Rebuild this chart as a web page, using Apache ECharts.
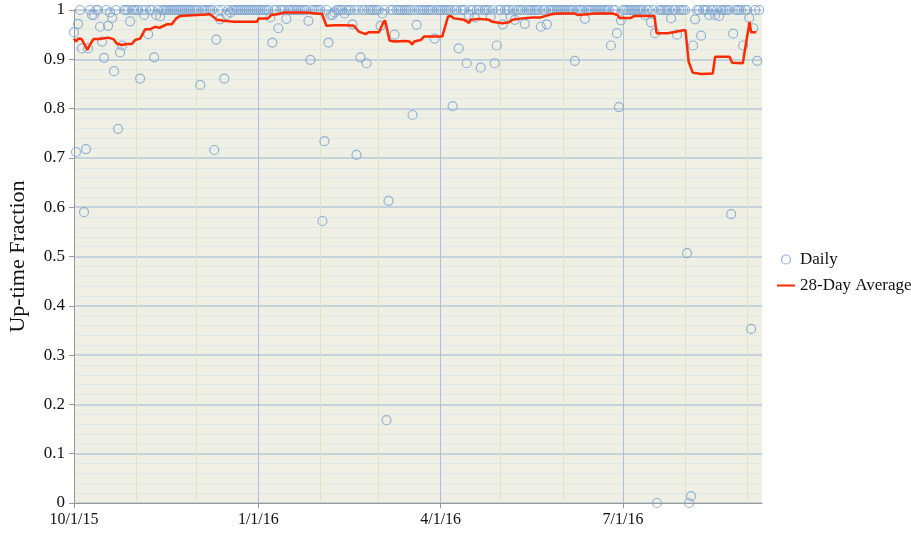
<!DOCTYPE html>
<html>
<head>
<meta charset="utf-8">
<script src="https://cdn.jsdelivr.net/npm/echarts@6/dist/echarts.min.js"></script>
<style>
  html, body { margin: 0; padding: 0; background: #fff; }
  #chart { width: 911px; height: 535px; }
</style>
</head>
<body>
<div id="chart"></div>
<script>
// ---- Data ----
// x values are days after 10/1/15
const lastDay = 343.4;

// one value per day, starting 10/1/15
const dailyUptime = [
  // Oct
  0.955, 0.712, 0.972, 1, 0.922, 0.590, 0.718, 0.922, 1, 0.99,
  0.99, 1, 1, 0.966, 0.936, 0.903, 1, 0.968, 0.995, 0.984,
  0.876, 1, 0.759, 0.914, 0.928, 1, 1, 1, 0.977, 1, 1,
  // Nov
  1, 1, 0.861, 1, 0.99, 1, 0.951, 1, 1, 0.904,
  0.99, 1, 0.987, 1, 1, 1, 1, 1, 1, 1,
  1, 1, 1, 1, 1, 1, 1, 1, 1, 1,
  // Dec
  1, 1, 0.848, 1, 1, 1, 1, 1, 1, 0.716,
  0.94, 1, 0.981, 1, 0.861, 0.99, 1, 0.995, 1, 1,
  1, 1, 1, 1, 1, 1, 1, 1, 1, 1, 1,
  // Jan
  1, 1, 1, 1, 1, 1, 0.985, 0.934, 1, 1,
  0.963, 1, 1, 1, 0.982, 1, 1, 1, 1, 1,
  1, 1, 1, 1, 1, 0.978, 0.899, 1, 1, 1, 1,
  // Feb
  1, 0.572, 0.734, 1, 0.934, 0.99, 0.99, 0.995, 1, 1,
  1, 1, 0.993, 1, 1, 1, 0.971, 1, 0.706, 1,
  0.904, 1, 1, 0.892, 1, 1, 1, 1, 1,
  // Mar
  1, 0.968, 0.993, 1, 0.168, 0.613, 1, 1, 0.95, 1,
  1, 1, 1, 1, 1, 1, 1, 0.787, 1, 0.97,
  1, 1, 1, 1, 1, 1, 1, 1, 0.942, 1, 1,
  // Apr
  1, 1, 1, 1, 1, 1, 0.805, 1, 1, 0.922,
  1, 1, 1, 0.892, 0.99, 1, 1, 0.985, 1, 1,
  0.883, 1, 1, 1, 1, 0.987, 1, 0.892, 0.928, 1,
  // May
  1, 0.971, 1, 1, 1, 0.987, 1, 0.98, 1, 1,
  1, 1, 0.972, 1, 1, 1, 1, 1, 1, 1,
  0.966, 1, 1, 0.971, 1, 1, 1, 1, 1, 1, 1,
  // Jun
  1, 1, 1, 1, 1, 1, 0.897, 1, 1, 1,
  1, 0.982, 1, 1, 1, 1, 1, 1, 1, 1,
  1, 1, 1, 1, 0.928, 1, 1, 0.953, 0.803, 0.979,
  // Jul
  1, 1, 1, 1, 1, 1, 1, 1, 1, 1,
  1, 0.99, 1, 1, 0.975, 1, 0.953, 0, 1, 1,
  1, 1, 1, 1, 0.983, 1, 1, 0.95, 1, 1, 1,
  // Aug
  1, 0.507, 0, 0.014, 0.928, 0.981, 1, 1, 0.948, 1,
  1, 1, 0.99, 1, 1, 0.99, 1, 0.988, 1, 1,
  1, 1, 1, 0.586, 0.952, 1, 1, 1, 1, 0.928, 1,
  // Sep
  1, 0.984, 0.353, 0.963, 1, 0.897, 1
];

// 28-day average, read at its turning points
const avgDays = [
  0, 1, 2.2, 3.8, 5, 6.7, 8.3, 9.7, 13, 17, 19.7, 21.3, 23.8, 26.3, 28.8, 30.5,
  33, 33.8, 35.5, 38, 40.5, 42.7, 46.3, 48.8, 51, 53, 61.3, 66.3, 67.7, 69.3,
  71.3, 74.7, 79.7, 85.5, 91.3, 92.2, 96.8, 98.5, 102.2, 104.7, 115.5, 123.8,
  126, 130.5, 135.5, 139.7, 142.2, 145.5, 147.2, 152.2, 154.2, 155.2, 156, 157.5,
  159.7, 165.5, 167.5, 168.8, 169.7, 173, 174.7, 183.8, 186.7, 188, 189.7, 194.7,
  197.2, 198, 202.2, 207.2, 208.8, 213.8, 217.2, 218.8, 223.8, 228.8, 233, 235.5,
  238.8, 242.2, 249.7, 251.3, 254.7, 260.5, 268.8, 271.3, 272.2, 278, 279.7,
  285.5, 289.7, 290.8, 296.3, 300.5, 304.2, 305.2, 306.8, 308.8, 313, 318.8,
  320, 327.2, 328.5, 333.8, 334.7, 337.2, 338, 340.5
];
const avgValues = [
  0.942, 0.936, 0.942, 0.941, 0.932, 0.919, 0.932, 0.941, 0.941, 0.944, 0.941, 0.932, 0.929, 0.931, 0.931, 0.939,
  0.942, 0.941, 0.961, 0.961, 0.966, 0.964, 0.971, 0.971, 0.983, 0.988, 0.99, 0.991, 0.992, 0.987,
  0.98, 0.978, 0.976, 0.976, 0.976, 0.983, 0.983, 0.99, 0.992, 0.995, 0.995, 0.992,
  0.968, 0.969, 0.969, 0.968, 0.956, 0.951, 0.955, 0.955, 0.973, 0.979, 0.966, 0.938,
  0.936, 0.937, 0.936, 0.930, 0.936, 0.939, 0.946, 0.946, 0.987, 0.988, 0.983, 0.98,
  0.974, 0.98, 0.982, 0.98, 0.976, 0.973, 0.975, 0.98, 0.983, 0.985, 0.985, 0.988,
  0.992, 0.993, 0.993, 0.99, 0.991, 0.993, 0.993, 0.99, 0.984, 0.984, 0.988,
  0.988, 0.988, 0.953, 0.953, 0.956, 0.959, 0.959, 0.895, 0.873, 0.87, 0.871,
  0.905, 0.905, 0.893, 0.892, 0.893, 0.976, 0.955, 0.955
];

// quarter ticks (labelled) and month lines, in days after 10/1/15
const tickDays = [0, 92, 183, 274];
const tickLabels = ['10/1/15', '1/1/16', '4/1/16', '7/1/16'];
const monthDays = [31, 61, 123, 152, 213, 244, 305, 336];

const serif = '"Liberation Serif", "DejaVu Serif", serif';

const chart = echarts.init(document.getElementById('chart'));
const option = {
  animation: false,
  textStyle: { fontFamily: serif },
  grid: {
    left: 74, right: 149, top: 10, bottom: 32,
    outerBoundsMode: 'none',
    containLabel: false,
    show: true, backgroundColor: '#eff0e3', borderWidth: 0
  },
  legend: {
    orient: 'vertical',
    left: 771,
    top: 246,
    itemWidth: 18,
    itemHeight: 9,
    itemGap: 9,
    textStyle: { fontFamily: serif, fontSize: 17, color: '#111' },
    data: [
      { name: 'Daily', icon: 'circle', itemStyle: { color: 'transparent', borderColor: '#7ba3cf', borderWidth: 1.2 } },
      { name: '28-Day Average', itemStyle: { opacity: 0 } }
    ]
  },
  xAxis: [
    {
      type: 'value',
      min: 0,
      max: lastDay,
      axisLine: { show: true, onZero: false, lineStyle: { color: '#999', width: 1 } },
      axisTick: { show: true, length: 5, customValues: tickDays, lineStyle: { color: '#999' } },
      axisLabel: {
        customValues: tickDays,
        fontFamily: serif, fontSize: 16, color: '#111', margin: 9,
        formatter: v => tickLabels[tickDays.indexOf(v)] || ''
      },
      splitLine: { show: true, lineStyle: { color: '#a9c1dd', width: 1 } }
    },
    {
      type: 'value',
      position: 'bottom',
      min: 0,
      max: lastDay,
      axisLine: { show: false },
      axisTick: { show: false, customValues: monthDays },
      axisLabel: { show: false, customValues: monthDays },
      splitLine: { show: true, lineStyle: { color: '#dbe4c6', width: 1 } }
    }
  ],
  yAxis: {
    type: 'value',
    min: 0,
    max: 1,
    interval: 0.1,
    name: 'Up-time Fraction',
    nameLocation: 'middle',
    nameGap: 45,
    nameTextStyle: { fontFamily: serif, fontSize: 22, color: '#111' },
    axisLine: { show: true, lineStyle: { color: '#999' } },
    axisTick: { show: true, length: 5, lineStyle: { color: '#999' } },
    axisLabel: { fontFamily: serif, fontSize: 17, color: '#111', margin: 9 },
    splitLine: { show: true, lineStyle: { color: '#b6c9dc', width: 1.6 } },
    minorTick: { show: false, splitNumber: 5 },
    minorSplitLine: { show: true, lineStyle: { color: '#dde8ec', width: 1 } }
  },
  series: [
    {
      name: 'Daily',
      type: 'scatter',
      xAxisIndex: 0,
      symbol: 'circle',
      symbolSize: 9,
      clip: false,
      itemStyle: { color: 'transparent', borderColor: '#7ba3cf', borderWidth: 1.2 },
      data: dailyUptime.map((v, i) => [i, v]),
      z: 3
    },
    {
      name: '28-Day Average',
      type: 'line',
      xAxisIndex: 0,
      symbol: 'none',
      color: '#ff2a00',
      lineStyle: { color: '#ff2a00', width: 2.5 },
      data: avgDays.map((d, i) => [d, avgValues[i]]),
      z: 4
    }
  ]
};
chart.setOption(option);
window.addEventListener('resize', () => chart.resize());
</script>
</body>
</html>
